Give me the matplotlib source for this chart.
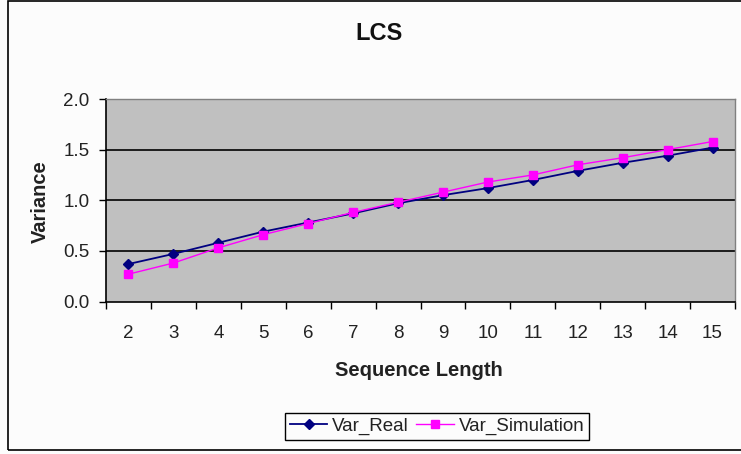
import matplotlib
matplotlib.use("Agg")
import matplotlib.pyplot as plt
from matplotlib.patches import Rectangle
from matplotlib.lines import Line2D

plt.rcParams['font.family'] = ['Liberation Sans', 'DejaVu Sans']

# data
seq_length = [2, 3, 4, 5, 6, 7, 8, 9, 10, 11, 12, 13, 14, 15]
var_real = [0.37, 0.47, 0.58, 0.69, 0.78, 0.87, 0.97, 1.05, 1.12, 1.20, 1.29, 1.37, 1.44, 1.52]
var_sim = [0.27, 0.38, 0.53, 0.66, 0.77, 0.88, 0.98, 1.08, 1.18, 1.25, 1.35, 1.42, 1.50, 1.58]
y_ticks = [0.0, 0.5, 1.0, 1.5, 2.0]

fig = plt.figure(figsize=(7.41, 4.54), dpi=100)
fig.patch.set_facecolor('#fcfcfc')

# outer chart frame
fig.patches.append(Rectangle((8 / 741, 4 / 454), 740 / 741, 449 / 454, transform=fig.transFigure,
                             fill=False, edgecolor='black', linewidth=1.2))

ax = fig.add_axes([106 / 741, 1 - 301.5 / 454, 629 / 741, 202.5 / 454])
ax.set_facecolor('#c0c0c0')

xs = list(range(len(seq_length)))
ax.plot(xs, var_real, color='#000080', marker='D', markersize=5, linewidth=1.3, zorder=3)
ax.plot(xs, var_sim, color='#ff00ff', marker='s', markersize=5.5, linewidth=1.0, zorder=4)

ax.set_xlim(-0.5, len(xs) - 0.5)
ax.set_ylim(0, 2.0)

for yv in y_ticks[1:-1]:
    ax.axhline(yv, color='black', linewidth=1.2, zorder=1)

ax.set_yticks(y_ticks)
ax.set_yticklabels([f"{v:.1f}" for v in y_ticks])
ax.set_xticks(xs)
ax.set_xticklabels([str(s) for s in seq_length])
ax.set_xticks([x - 0.5 for x in xs] + [len(xs) - 0.5], minor=True)
ax.tick_params(axis='x', which='major', length=0, pad=17, labelsize=13.5, labelcolor='#222222')
ax.tick_params(axis='x', which='minor', length=5, width=1, direction='out')
ax.tick_params(axis='y', length=5, width=1, direction='out', labelsize=13.5, pad=7,
               labelcolor='#222222')

for side in ['left', 'bottom']:
    ax.spines[side].set_color('black')
    ax.spines[side].set_linewidth(1.2)
for side in ['top', 'right']:
    ax.spines[side].set_color('#808080')
    ax.spines[side].set_linewidth(1.0)

fig.text(379 / 741, 1 - 34 / 454, 'LCS', ha='center', va='center', fontsize=17, fontweight='bold',
         color='#111111')
fig.text(40 / 741, 1 - 202 / 454, 'Variance', ha='center', va='center', rotation=90,
         fontsize=14.5, fontweight='bold', color='#222222')
fig.text(419 / 741, 1 - 370 / 454, 'Sequence Length', ha='center', va='center',
         fontsize=14.5, fontweight='bold', color='#222222')

handles = [Line2D([], [], color='#000080', marker='D', markersize=5, linewidth=1.3),
           Line2D([], [], color='#ff00ff', marker='s', markersize=5.5, linewidth=1.0)]
leg = fig.legend(handles, ['Var_Real', 'Var_Simulation'], loc='center',
                 bbox_to_anchor=(437 / 741, 1 - 426.5 / 454), ncol=2, fontsize=13.5,
                 frameon=True, fancybox=False, edgecolor='black', framealpha=1,
                 handlelength=2.0, handletextpad=0.25, columnspacing=0.4,
                 borderpad=0.25, borderaxespad=0)
leg.get_frame().set_linewidth(1.0)
leg.get_frame().set_facecolor('#fcfcfc')
for t in leg.get_texts():
    t.set_color('#222222')

fig.savefig('out.png', dpi=100, facecolor=fig.get_facecolor())
